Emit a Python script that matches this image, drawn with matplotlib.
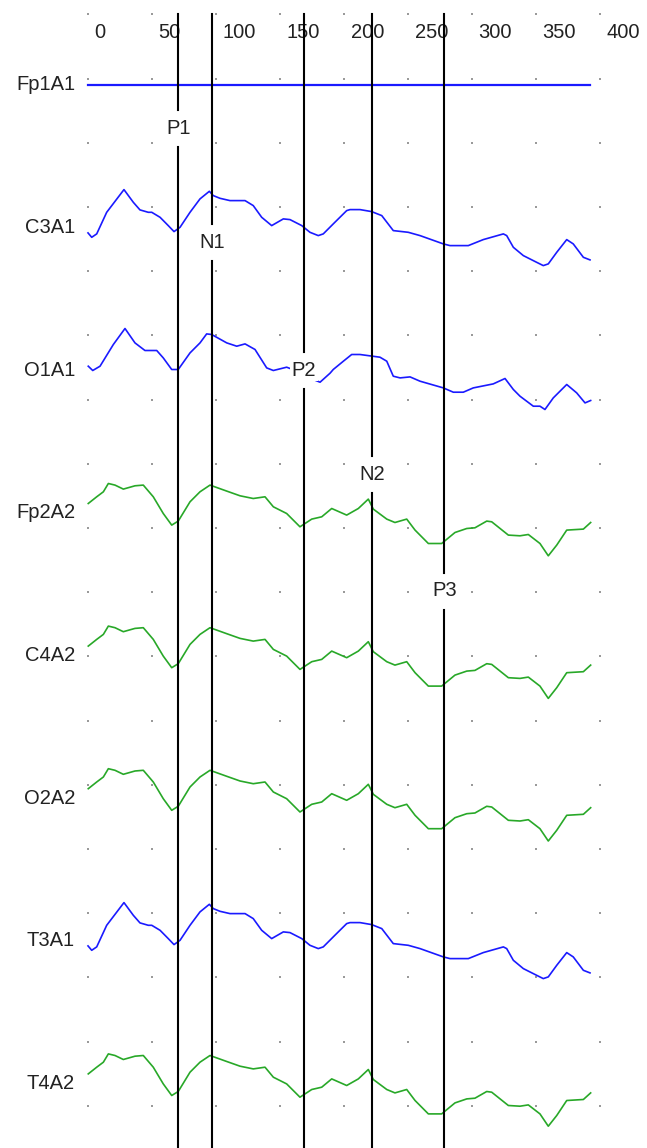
import numpy as np
import matplotlib
matplotlib.use("Agg")
import matplotlib.pyplot as plt

# -------------------------------
# data (time in ms, amplitude in display units, positive = up)
# -------------------------------
channels = ["Fp1A1", "C3A1", "O1A1", "Fp2A2", "C4A2", "O2A2", "T3A1", "T4A2"]
channel_colors = ["#1a1aff", "#1a1aff", "#1a1aff", "#28a828",
                  "#28a828", "#28a828", "#1a1aff", "#28a828"]

flat_t = [0, 392.5]
flat_amp = [0, 0]

c3_t = [0, 2.9, 6.8, 14.6, 28.1, 35.4, 40.6, 47.1, 49.8, 56.3, 62.7, 67.2,
        71.9, 79.7, 87.5, 94.8, 97.9, 103.1, 110.9, 122.7, 129.1, 135.7,
        143.5, 152.6, 157.8, 167.0, 173.4, 179.9, 183.8, 191.6, 202.1,
        204.7, 212.5, 221.6, 229.5, 238.5, 250.2, 259.4, 277.6, 282.8,
        297.1, 308.8, 324.5, 327.1, 332.3, 340.1, 350.5, 355.7, 359.6,
        366.2, 374.0, 379.1, 387.0, 392.2]
c3_amp = [-5.3, -9.7, -6.3, 15.3, 38, 25.3, 17.7, 15.3, 15.3, 10.3, 2, -4,
          0.3, 15.3, 28.7, 36.3, 32, 29.3, 27, 27, 22, 10.3,
          2, 8.7, 8, 2, -4.7, -8, -6.3, 3.7, 17,
          18, 18, 16, 12, -3, -4.7, -8, -16.3, -18,
          -18, -12, -6.3, -8, -19.7, -28, -34.7, -38, -36.3,
          -24.7, -12, -16.3, -29.7, -32.3]

o1_t = [0.2, 3.7, 9.4, 19.8, 28.9, 36.7, 44.5, 53.7, 58.8, 65.4, 70.5,
        79.7, 87.5, 92.7, 96.6, 108.4, 116.2, 122.7, 130.5, 139.6, 144.8,
        155.2, 165.6, 173.4, 181.3, 189.1, 191.6, 199.5, 206.0, 212.5,
        228.1, 233.4, 238.5, 243.8, 251.6, 259.4, 277.6, 285.4, 293.2,
        301.0, 316.6, 325.8, 332.3, 337.5, 347.9, 353.1, 357.0, 363.5,
        374.0, 381.8, 388.3, 392.7]
o1_amp = [4, -0.3, 4, 25.7, 41.7, 27.3, 19.7, 19.7, 12.3, 0.7, 0.7,
          17.3, 27.3, 36.3, 35.7, 27.3, 24, 26.3, 20.7, 2.3, -0.3,
          3, -2, -8, -12, -3, 0.7, 9, 15.7, 15.7,
          13, 9, -6, -7.7, -6.7, -11, -17.7, -22, -22,
          -17.7, -13.7, -8.3, -19.3, -26, -36, -36, -39.3, -27.7,
          -14.3, -22.7, -32.7, -30.3]

fp2_t = [0.2, 6.8, 12.0, 15.9, 21.1, 27.6, 36.7, 43.2, 51.0, 58.8, 65.4,
         70.5, 79.7, 87.5, 95.3, 108.4, 118.8, 129.1, 138.3, 144.8, 155.2,
         165.6, 174.8, 182.6, 190.4, 202.1, 211.2, 219.0, 222.9, 233.4,
         239.8, 249.0, 255.5, 265.9, 276.3, 286.7, 295.9, 302.3, 311.5,
         315.4, 328.4, 337.5, 344.0, 353.1, 359.6, 366.2, 374.0, 387.0,
         392.7]
fp2_amp = [9.3, 16, 21, 29.3, 27.7, 23.7, 27, 27.7, 16, -0.7, -12.3,
           -8.3, 11, 21, 27.7, 21.7, 17, 14.3, 16, 6, -0.7,
           -14, -6.3, -4, 4.3, -2.3, 4.3, 13.7, 3.7, -6.3,
           -9.7, -6.3, -17.3, -30.7, -30.7, -19.7, -15.7, -15, -8.3,
           -9, -22.3, -23, -21.7, -30.7, -43, -32.3, -17.3, -16.3,
           -9.7]

traces = {
    "Fp1A1": (flat_t, flat_amp),
    "C3A1": (c3_t, c3_amp),
    "O1A1": (o1_t, o1_amp),
    "Fp2A2": (fp2_t, fp2_amp),
    "C4A2": (fp2_t, fp2_amp),
    "O2A2": (fp2_t, fp2_amp),
    "T3A1": (c3_t, c3_amp),
    "T4A2": (fp2_t, fp2_amp),
}

tick_values = [0, 50, 100, 150, 200, 250, 300, 350, 400]

marker_names = ["P1", "N1", "P2", "N2", "P3"]
marker_times = [70.5, 97.1, 168.8, 222.0, 278.4]
marker_label_y = [128, 242, 370, 474, 591]

# -------------------------------
# layout (pixel-like units, y grows downward)
# -------------------------------
W, H = 647, 1148
x0_px, px_per_ms = 88, 1.28
top_base, spacing = 85, 142.6
dot_rows = 14.3 + 64.2 * np.arange(18)


def px_to_t(px):
    return (px - x0_px) / px_per_ms


fig = plt.figure(figsize=(W / 100, H / 100), dpi=100)
ax = fig.add_axes([0, 0, 1, 1])
ax.set_xlim(px_to_t(0), px_to_t(W))
ax.set_ylim(H, 0)
ax.axis("off")

font = dict(family="Liberation Sans", fontsize=14.5, color="#222222")

# dotted grid
gx, gy = np.meshgrid(tick_values, dot_rows)
ax.scatter(gx.ravel(), gy.ravel(), s=1.2, marker="s", color="#9a9a9a",
           linewidths=0, zorder=1)

# time labels (left aligned next to each dot column)
for v in tick_values:
    ax.text(v + 6.5 / px_per_ms, 33, str(v), ha="left", va="center", **font)

# channels
for i, name in enumerate(channels):
    base = top_base + i * spacing
    t, amp = traces[name]
    lw = 1.6 if name == "Fp1A1" else 1.2
    ax.plot(t, base - np.array(amp), color=channel_colors[i], lw=lw, zorder=2)
    ax.text(px_to_t(75), base, name, ha="right", va="center", **font)

# component markers
for name, t, ly in zip(marker_names, marker_times, marker_label_y):
    ax.plot([t, t], [14, ly - 18.5], color="black", lw=1.5, zorder=3)
    ax.plot([t, t], [ly + 18.5, H], color="black", lw=1.5, zorder=3)
    ax.text(t, ly, name, ha="center", va="center", zorder=4,
            bbox=dict(facecolor="white", edgecolor="none", pad=1), **font)

plt.savefig("out.png", dpi=100)
